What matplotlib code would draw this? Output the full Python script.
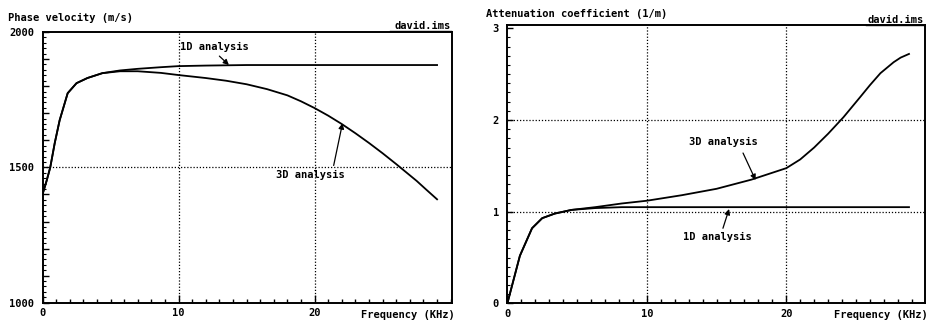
import numpy as np
import matplotlib.pyplot as plt
from matplotlib.ticker import MultipleLocator, FixedLocator
from matplotlib.lines import Line2D

plt.rcParams['font.family'] = 'DejaVu Sans Mono'
plt.rcParams['font.weight'] = 'bold'
plt.rcParams['font.size'] = 7.5

# phase velocity (m/s) vs frequency (kHz)
f_v3d = [0, 0.3, 0.57, 0.9, 1.26, 1.85, 2.5, 3.3, 4.4, 5.7, 7, 8.7, 10, 12, 13.5, 15, 16.5, 18, 19, 20, 21, 22, 23, 24, 25, 26, 27.5, 28.2, 29]
v_3d = [1400, 1450, 1500, 1590, 1674, 1774, 1811, 1830, 1848, 1855, 1855, 1849, 1841, 1830, 1820, 1807, 1789, 1766, 1744, 1719, 1691, 1660, 1626, 1590, 1552, 1512, 1450, 1418, 1382]
f_v1d = [0, 0.3, 0.57, 0.9, 1.26, 1.85, 2.5, 3.3, 4.4, 5.7, 7, 8.7, 10, 12, 15, 20, 25, 29]
v_1d = [1400, 1450, 1500, 1590, 1674, 1774, 1811, 1830, 1848, 1858, 1864, 1870, 1874, 1876, 1878, 1878, 1878, 1878]

# attenuation coefficient (1/m) vs frequency (kHz)
f_a3d = [0, 0.9, 1.77, 2.5, 3.4, 4.6, 6.3, 8.2, 10, 12.5, 15, 17.5, 20, 21, 22, 23, 24.1, 24.7, 25.3, 26, 26.75, 27.7, 28.2, 28.8]
a_3d = [0, 0.52, 0.82, 0.93, 0.98, 1.02, 1.05, 1.09, 1.12, 1.18, 1.25, 1.35, 1.475, 1.57, 1.7, 1.85, 2.03, 2.14, 2.25, 2.38, 2.51, 2.63, 2.68, 2.72]
f_a1d = [0, 0.9, 1.77, 2.5, 3.4, 4.6, 6.3, 8.2, 10, 15, 20, 25, 28.8]
a_1d = [0, 0.52, 0.82, 0.93, 0.98, 1.02, 1.04, 1.05, 1.05, 1.05, 1.05, 1.05, 1.05]

freq_labels = [0, 10, 20]
v_labels = [1000, 1500, 2000]
a_labels = [0, 1, 2, 3]
v_grid = [1500]
a_grid = [1, 2]

fig = plt.figure(figsize=(9.28, 3.24), dpi=100)
ax1 = fig.add_axes([0.0458, 0.0657, 0.4413, 0.8355])
ax2 = fig.add_axes([0.5467, 0.0633, 0.4501, 0.858])


def style(ax, xmax, label_y):
    ax.set_xlim(0, xmax)
    for s in ax.spines.values():
        s.set_linewidth(1.4)
    ax.xaxis.set_major_locator(FixedLocator(freq_labels))
    ax.set_xticklabels([str(v) for v in freq_labels])
    ax.xaxis.set_minor_locator(MultipleLocator(1))
    ax.tick_params(axis='x', which='major', direction='in', length=6, width=1, pad=4)
    ax.tick_params(axis='x', which='minor', direction='in', length=3, width=1)
    ax.tick_params(axis='y', which='major', direction='in', length=4, width=1, pad=6)
    ax.tick_params(axis='y', which='minor', direction='in', length=2, width=0.8)
    for x in freq_labels[1:]:
        ax.axvline(x, color='k', lw=0.9, ls=(0, (1, 1.5)))
    ax.text(1.006, label_y, 'Frequency (KHz)', transform=ax.transAxes, ha='right', va='center')


# left panel
style(ax1, 30.1, -0.046)
ax1.set_ylim(1000, 2000)
ax1.yaxis.set_major_locator(MultipleLocator(100))
ax1.set_yticklabels([str(int(t)) if t in v_labels else '' for t in ax1.get_yticks()])
ax1.yaxis.set_minor_locator(MultipleLocator(20))
for y in v_grid:
    ax1.axhline(y, color='k', lw=0.9, ls=(0, (1, 1.5)))
ax1.plot(f_v1d, v_1d, color='k', lw=1.3)
ax1.plot(f_v3d, v_3d, color='k', lw=1.3)
arrow = dict(arrowstyle='-|>', color='k', lw=0.9, mutation_scale=8, shrinkA=0, shrinkB=0)
ax1.annotate('', xy=(13.7, 1878), xytext=(13.0, 1911), arrowprops=arrow)
ax1.text(12.6, 1944, '1D analysis', ha='center', va='center')
ax1.annotate('', xy=(22.05, 1663), xytext=(21.4, 1507), arrowprops=arrow)
ax1.text(19.7, 1470, '3D analysis', ha='center', va='center')
fig.text(8 / 928, 1 - 18 / 324, 'Phase velocity (m/s)', ha='left', va='center')
fig.text(451 / 928, 1 - 26 / 324, 'david.ims', ha='right', va='center')
fig.add_artist(Line2D([390 / 928, 451 / 928], [1 - 31 / 324] * 2, color='k', lw=1))

# right panel
style(ax2, 29.95, -0.041)
ax2.set_ylim(0, 3.03)
ax2.yaxis.set_major_locator(FixedLocator(a_labels))
ax2.set_yticklabels([str(v) for v in a_labels])
ax2.yaxis.set_minor_locator(MultipleLocator(0.1))
for y in a_grid:
    ax2.axhline(y, color='k', lw=0.9, ls=(0, (1, 1.5)))
ax2.plot(f_a1d, a_1d, color='k', lw=1.3)
ax2.plot(f_a3d, a_3d, color='k', lw=1.3)
ax2.annotate('', xy=(17.8, 1.345), xytext=(16.9, 1.64), arrowprops=arrow)
ax2.text(15.46, 1.76, '3D analysis', ha='center', va='center')
ax2.annotate('', xy=(15.9, 1.03), xytext=(15.46, 0.82), arrowprops=arrow)
ax2.text(15.07, 0.72, '1D analysis', ha='center', va='center')
fig.text(486 / 928, 1 - 14 / 324, 'Attenuation coefficient (1/m)', ha='left', va='center')
fig.text(924 / 928, 1 - 20 / 324, 'david.ims', ha='right', va='center')
fig.add_artist(Line2D([866 / 928, 924 / 928], [1 - 24.5 / 324] * 2, color='k', lw=1))

fig.savefig('out.png', dpi=100)
